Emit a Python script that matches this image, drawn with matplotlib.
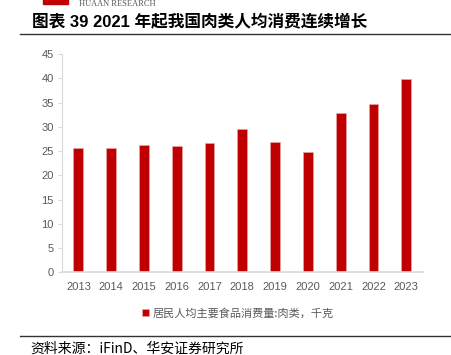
import matplotlib.pyplot as plt
from matplotlib.patches import Rectangle

plt.rcParams['font.family'] = ['Liberation Sans', 'Noto Sans CJK SC', 'DejaVu Sans']

years = ["2013", "2014", "2015", "2016", "2017", "2018", "2019", "2020", "2021", "2022", "2023"]
meat_kg = [25.6, 25.6, 26.2, 26.1, 26.7, 29.5, 26.9, 24.8, 32.9, 34.6, 39.8]
series_name = "居民人均主要食品消费量:肉类，千克"
title = "图表 39 2021 年起我国肉类人均消费连续增长"
source = "资料来源：iFinD、华安证券研究所"

W, H = 451, 355
fig = plt.figure(figsize=(W / 100, H / 100), dpi=100)
ax = fig.add_axes([62 / W, 1 - 272.3 / H, (422.7 - 62) / W, (272.3 - 54) / H])

x = list(range(len(years)))
bars = ax.bar(x, meat_kg, width=0.3, color="#C00000", edgecolor="#e9a3a3",
              linewidth=0.5, label=series_name)

ax.set_xlim(-0.5, len(years) - 0.5)
ax.set_ylim(0, 45)
ax.set_yticks(range(0, 46, 5))
ax.set_xticks(x)
ax.set_xticklabels(years)
for s in ["top", "right"]:
    ax.spines[s].set_visible(False)
ax.spines["left"].set_color("#d9d9d9")
ax.spines["bottom"].set_color("#d9d9d9")
ax.spines["bottom"].set_linewidth(1.2)
ax.tick_params(axis="y", length=3, color="#d9d9d9", labelsize=8, labelcolor="#595959", pad=3)
ax.tick_params(axis="x", length=0, labelsize=8, labelcolor="#595959", pad=7)

# legend
fig.legend(handles=[bars], labels=[series_name], loc="center",
           bbox_to_anchor=(238 / W, 1 - 313 / H), frameon=False,
           prop={"family": ["Noto Sans CJK SC"], "size": 8},
           handlelength=0.6, handleheight=0.6, handletextpad=0.3, labelcolor="#595959")

# header: logo and title
fig.patches.append(Rectangle((43 / W, 1 - 4 / H), 25 / W, 6 / H,
                             transform=fig.transFigure, color="#C00000"))
fig.text(79 / W, 1 - 6.5 / H, "HUAAN RESEARCH", family="Liberation Serif",
         fontsize=6, color="#555555", va="baseline")
fig.text(32 / W, 1 - 21 / H, title, fontsize=12, fontweight="bold",
         family=["Liberation Sans", "Noto Sans CJK SC"], va="center", color="black")
fig.add_artist(plt.Line2D([20 / W, 1], [1 - 33.5 / H, 1 - 33.5 / H],
                          transform=fig.transFigure, color="#333333", lw=1))

# footer
fig.add_artist(plt.Line2D([20 / W, 1], [1 - 336 / H, 1 - 336 / H],
                          transform=fig.transFigure, color="#333333", lw=1))
fig.text(30 / W, 1 - 349 / H, source, fontsize=10,
         family=["Noto Sans CJK SC", "Liberation Sans"], va="center", color="black")

fig.savefig("out.png", dpi=100)
